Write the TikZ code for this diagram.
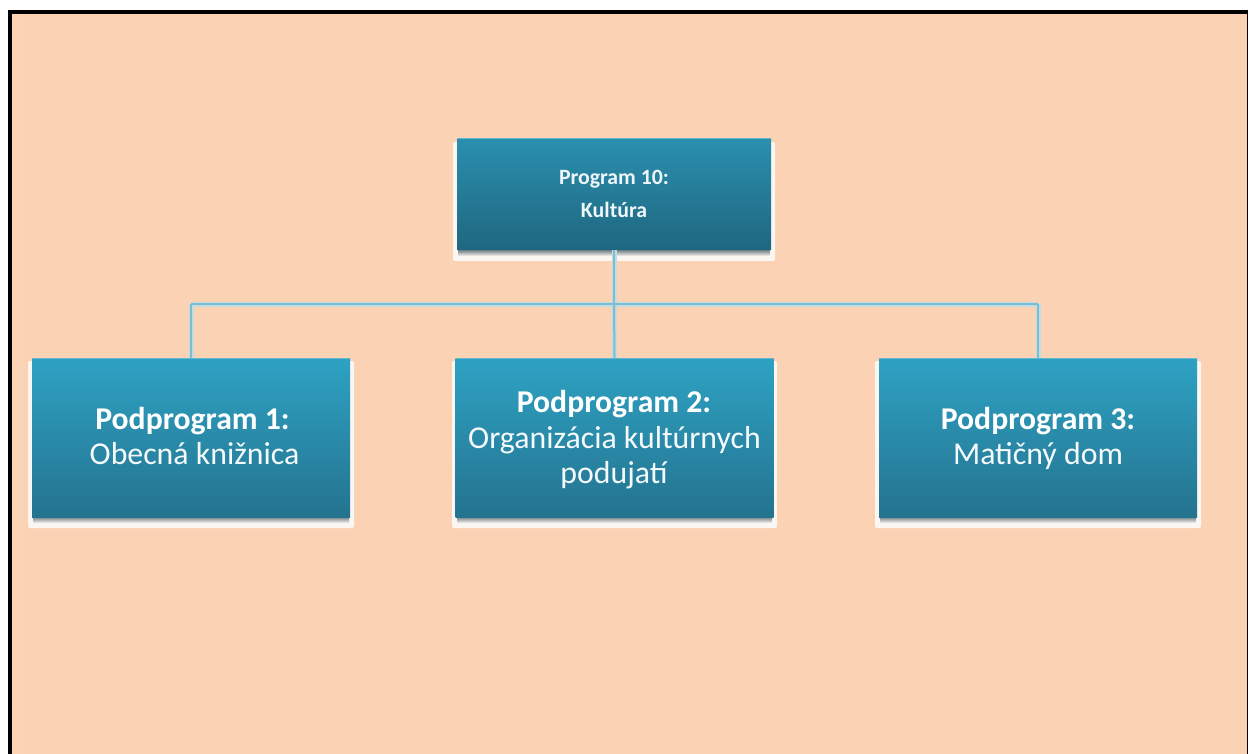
\documentclass[tikz,border=0pt]{standalone}
\usepackage{fontspec}
\setmainfont{Carlito}
\definecolor{bgpeach}{HTML}{FBD3B4}
\definecolor{topA}{HTML}{2A8FAE}
\definecolor{topB}{HTML}{1F6780}
\definecolor{subA}{HTML}{2EA2C3}
\definecolor{subB}{HTML}{24738F}
\definecolor{linkblue}{HTML}{7DBDD2}
\definecolor{linkpale}{HTML}{BFDDE2}
\definecolor{edgeblue}{HTML}{62B8D3}
\definecolor{shadowgrey}{HTML}{6F7F85}
\definecolor{halowhite}{HTML}{FAF6F1}
\tikzset{
  x=1pt,y=-1pt,
  orgbox/.style={rectangle,inner sep=0pt,outer sep=0pt,minimum width=#1},
  topbox/.style={orgbox=314pt,minimum height=111pt,top color=topA,bottom color=topB},
  subbox/.style={orgbox=318pt,minimum height=159pt,top color=subA,bottom color=subB},
  linkpaleline/.style={linkpale,line width=5pt},
  linkline/.style={linkblue,line width=2pt},
  smalllabel/.style={text=white!92!topA,font=\fontsize{21.8}{26}\selectfont\bfseries},
  headlabel/.style={text=white,font=\fontsize{31.7}{38}\selectfont\bfseries},
  bodylabel/.style={text=white!95!subA,font=\fontsize{31.8}{38}\selectfont},
}
\newcommand{\halo}[4]{% x1 y1 x2 y2
  \fill[halowhite,rounded corners=2pt] (#1-4,#2+3) rectangle (#3+4,#4+11);
  \shade[top color=shadowgrey,bottom color=halowhite] (#1+1,#4) rectangle (#3-1,#4+6);
}
\begin{document}
\begin{tikzpicture}
\useasboundingbox (0,0) rectangle (1248,754);
\fill[white] (0,0) rectangle (1248,754);
\fill[bgpeach] (8,10) rectangle (1248,754);
\fill[white!3!bgpeach] (12,14) rectangle (24,754);
\fill[black] (8,10) rectangle (1248,14);
\fill[black] (8,10) rectangle (12,754);
\fill[black] (1246.5,10) rectangle (1248,754);
\halo{457}{139}{771}{250}
\halo{32}{358}{350}{517}
\halo{456}{358}{773}{517}
\halo{879}{358}{1197}{517}
\node[topbox] (top) at (614,194.5) {};
\node[subbox] (s1) at (191,437.5) {};
\node[subbox] (s2) at (614.5,437.5) {};
\node[subbox] (s3) at (1038,437.5) {};
\coordinate (busM) at (614,304);
\coordinate (busL) at (191,304);
\coordinate (busR) at (1038,304);
\foreach \st in {linkpaleline,linkline}{
  \draw[\st] (top.south) -- (busM);
  \draw[\st] (busL) -- (busR);
  \draw[\st] (busL) -- (s1.north);
  \draw[\st] (busM) -- (s2.north);
  \draw[\st] (busR) -- (s3.north);
}
\draw[edgeblue,line width=1pt] (top.north west) -- (top.north east);
\draw[edgeblue,line width=1pt] (s1.north west) -- (s1.north east);
\draw[edgeblue,line width=1pt] (s2.north west) -- (s2.north east);
\draw[edgeblue,line width=1pt] (s3.north west) -- (s3.north east);
\node[smalllabel] (tl1) at (614,179.5) {Program 10:};
\node[smalllabel] (tl2) at (614,210) {Kultúra};
\node[headlabel] (a1) at (192.5,421) {Podprogram 1:};
\node[bodylabel] (a2) at (194.5,454) {Obecná knižnica};
\node[headlabel] (b1) at (614,404) {Podprogram 2:};
\node[bodylabel] (b2) at (614.5,440) {Organizácia kultúrnych};
\node[bodylabel] (b3) at (614,475) {podujatí};
\node[headlabel] (c1) at (1038,421) {Podprogram 3:};
\node[bodylabel] (c2) at (1038,456) {Matičný dom};
\end{tikzpicture}
\end{document}
